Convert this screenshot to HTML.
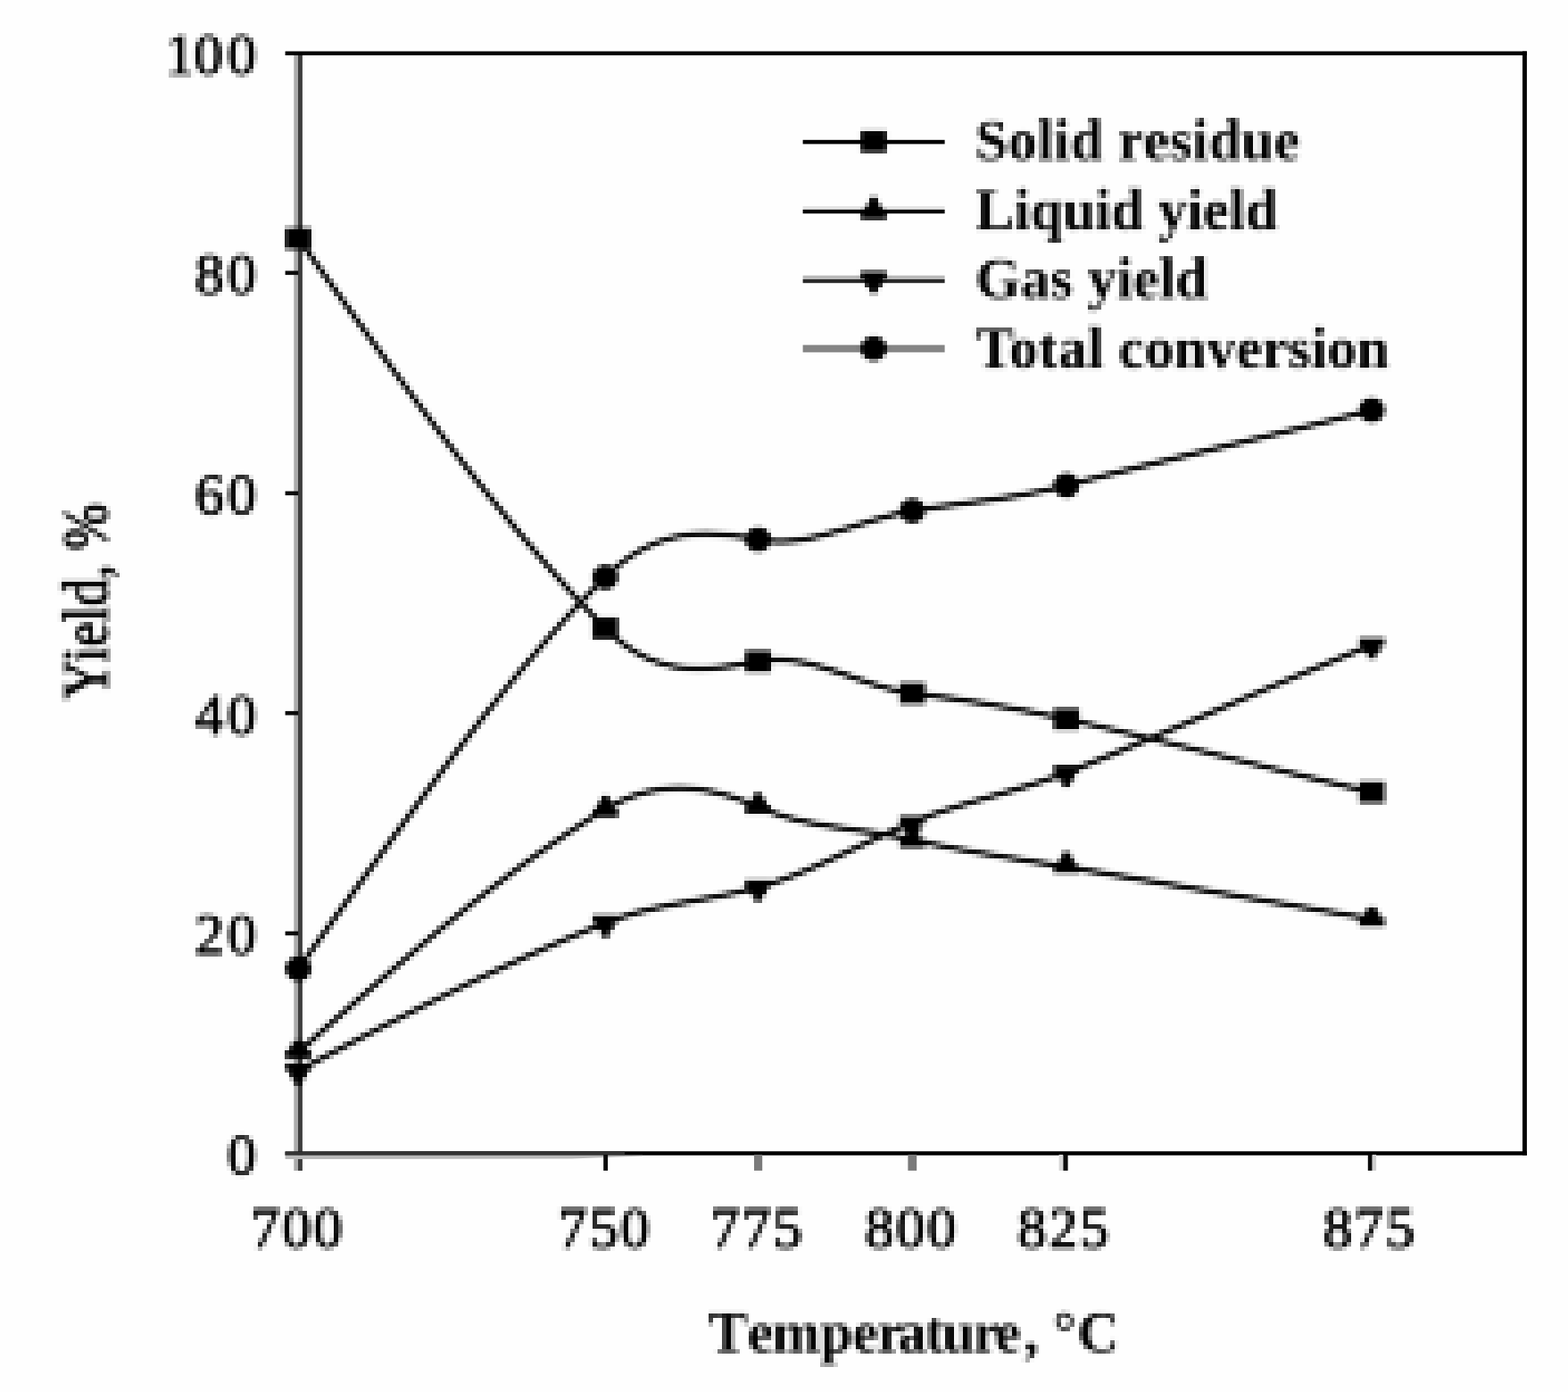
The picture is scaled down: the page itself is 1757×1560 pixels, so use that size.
<!DOCTYPE html>
<html lang="en">
<head>
<meta charset="utf-8">
<title>Yield vs Temperature</title>
<style>
html,body{margin:0;padding:0;background:#fefefe;}
body{width:1757px;height:1560px;}
svg{display:block;}
text{font-family:"Liberation Serif","DejaVu Serif",serif;fill:#000;}
.tick{font-size:65px;stroke:#000;stroke-width:1.6px;stroke-linejoin:round;}
.bold{font-size:65px;font-weight:bold;fill:#000;}
</style>
</head>
<body>
<svg width="1757" height="1560" viewBox="0 0 1757 1560">
<defs>
<filter id="soft" x="-1" y="-3" width="1760" height="1565" filterUnits="userSpaceOnUse" primitiveUnits="userSpaceOnUse" color-interpolation-filters="sRGB">
<feGaussianBlur in="SourceGraphic" stdDeviation="1.4" result="avg"/>
<feFlood x="1" y="-1" width="1" height="1" flood-color="#000" flood-opacity="1" result="dot"/>
<feComposite in="dot" in2="dot" operator="over" x="-1" y="-3" width="5" height="5" result="cell"/>
<feTile in="cell" x="-1" y="-3" width="1760" height="1565" result="grid"/>
<feComposite in="avg" in2="grid" operator="in" result="samples"/>
<feMorphology in="samples" operator="dilate" radius="2" result="blocks"/>
<feGaussianBlur in="blocks" stdDeviation="0.6"/>
</filter>
<filter id="edge" x="-1" y="-3" width="1760" height="1565" filterUnits="userSpaceOnUse" color-interpolation-filters="sRGB">
<feGaussianBlur stdDeviation="0.6"/>
</filter>
</defs>
<rect x="0" y="0" width="1757" height="1560" fill="#fefefe"/>

<g id="frame" filter="url(#edge)">
<rect x="329.3" y="61.0" width="4.8" height="1251" fill="#ababab"/>
<rect x="334.0" y="61.0" width="4.9" height="1251" fill="#3e3e3e"/>
<rect x="319.6" y="57.5" width="1391.3" height="4.5" fill="#000"/>
<rect x="1706.0" y="57.5" width="4.9" height="1237.2" fill="#000"/>
<path d="M319.6,1290.4 L700,1290.2 L1710.9,1290.2 L1710.9,1294.7 L700,1294.8 L319.6,1294.8 Z" fill="#000"/>
<path d="M319.6,1290.4 L560,1290.3 L700,1290.2 L700,1294.8 L319.6,1294.8 Z" fill="#333"/>
<path d="M319.6,1294.8 L640,1294.8 L720,1294.8 L720,1295.6 L640,1298.4 L319.6,1299.0 Z" fill="#b8b8b8"/>
<rect x="319.6" y="303.5" width="14.6" height="4.6" fill="#0c0c0c"/>
<rect x="319.6" y="550.5" width="14.6" height="4.6" fill="#0c0c0c"/>
<rect x="319.6" y="796.9" width="14.6" height="4.6" fill="#0c0c0c"/>
<rect x="319.6" y="1043.7" width="14.6" height="4.6" fill="#0c0c0c"/>
<rect x="676.2" y="1294" width="4.9" height="17.9" fill="#0c0c0c"/>
<rect x="845.0" y="1294" width="9.2" height="17.9" fill="#7a7a7a"/>
<rect x="1017.4" y="1294" width="9.8" height="17.9" fill="#7a7a7a"/>
<rect x="1186.6" y="1294" width="4.8" height="17.9" fill="#d8d8d8"/>
<rect x="1191.4" y="1294" width="5.2" height="17.9" fill="#0c0c0c"/>
<rect x="1532.8" y="1294" width="4.9" height="17.9" fill="#0c0c0c"/>
<rect x="1537.7" y="1294" width="4.4" height="17.9" fill="#cfcfcf"/>
<rect x="899.6" y="156.8" width="159.0" height="4.6" fill="#000"/>
<rect x="899.6" y="231.0" width="159.0" height="4.2" fill="#e4e4e4"/>
<rect x="899.6" y="234.9" width="159.0" height="4.4" fill="#000"/>
<rect x="899.6" y="308.7" width="159.0" height="4.5" fill="#bababa"/>
<rect x="899.6" y="313.0" width="159.0" height="4.2" fill="#2a2a2a"/>
<rect x="899.6" y="386.6" width="159.0" height="8.2" fill="#858585"/>
</g>
<g id="chart" filter="url(#soft)">
<g id="ylabels" class="tick">
<text x="185.3 217.3 254.8" y="82.8">100</text>
<text x="218.6 254.8" y="329.4">80</text>
<text x="218.6 254.8" y="576.1">60</text>
<text x="218.6 254.8" y="822.7">40</text>
<text x="218.6 254.8" y="1069.4">20</text>
<text x="254.8" y="1316.0">0</text>
</g>
<g id="xlabels" class="tick">
<text x="281.2 316.1 350.9" y="1398">700</text>
<text x="625.5 660.4 695.2" y="1398">750</text>
<text x="796.5 831.4 866.2" y="1398">775</text>
<text x="969.2 1004.1 1039.0" y="1398">800</text>
<text x="1140.2 1175.2 1210.1" y="1398">825</text>
<text x="1482.8 1517.8 1552.7" y="1398">875</text>
</g>
<g id="curves" fill="none" stroke="#000" stroke-width="5.8" stroke-linejoin="round">
<path d="M334.3,267.3 C448.9,427.8 563.6,588.2 678.2,704.0 C735.3,761.7 792.4,752.2 849.5,741.2 C907.1,730.1 964.7,770.0 1022.3,777.0 C1079.9,784.0 1137.4,793.4 1195.0,806.0 C1309.1,830.9 1423.1,862.2 1537.2,887.7"/>
<path d="M334.3,1085.6 C448.9,927.2 563.6,760.3 678.2,646.8 C735.3,590.3 792.4,593.9 849.5,604.7 C907.1,615.6 964.7,581.8 1022.3,572.4 C1079.9,563.0 1137.4,559.1 1195.0,544.0 C1309.1,514.2 1423.1,489.1 1537.2,459.7"/>
<path d="M334.3,1179.0 C448.9,1077.8 563.6,976.1 678.2,907.0 C735.3,872.6 792.4,879.2 849.5,904.3 C907.1,929.7 964.7,927.3 1022.3,941.0 C1079.9,954.7 1137.4,962.0 1195.0,971.5 C1309.1,990.4 1423.1,1010.9 1537.2,1030.0"/>
<path d="M334.3,1200.0 C448.9,1139.4 563.6,1079.8 678.2,1034.5 C735.3,1011.9 792.4,1010.2 849.5,994.5 C907.1,978.7 964.7,945.3 1022.3,921.5 C1079.9,897.7 1137.4,888.4 1195.0,866.0 C1309.1,821.5 1423.1,768.2 1537.2,723.0"/>
</g>
<g id="markers" fill="#000">
<rect x="320.0" y="255.3" width="28.6" height="24.0"/>
<rect x="663.9" y="692.0" width="28.6" height="24.0"/>
<rect x="835.2" y="729.2" width="28.6" height="24.0"/>
<rect x="1008.0" y="765.0" width="28.6" height="24.0"/>
<rect x="1180.7" y="794.0" width="28.6" height="24.0"/>
<rect x="1522.9" y="875.7" width="28.6" height="24.0"/>
<ellipse cx="334.3" cy="1085.6" rx="14.5" ry="13.9"/>
<ellipse cx="678.2" cy="646.8" rx="14.5" ry="13.9"/>
<ellipse cx="849.5" cy="604.7" rx="14.5" ry="13.9"/>
<ellipse cx="1022.3" cy="572.4" rx="14.5" ry="13.9"/>
<ellipse cx="1195.0" cy="544.0" rx="14.5" ry="13.9"/>
<ellipse cx="1537.2" cy="459.7" rx="14.5" ry="13.9"/>
<path d="M320.0,1186.2 L348.6,1186.2 L348.6,1176.6 L343.7,1176.6 L343.7,1171.8 L341.3,1171.8 L341.3,1167.6 L338.9,1167.6 L338.9,1166.2 L329.7,1166.2 L329.7,1167.6 L327.3,1167.6 L327.3,1171.8 L324.9,1171.8 L324.9,1176.6 L320.0,1176.6 Z"/>
<path d="M663.9,915.7 L692.5,915.7 L692.5,906.1 L687.6,906.1 L687.6,901.3 L685.2,901.3 L685.2,897.1 L682.8,897.1 L682.8,891.7 L673.6,891.7 L673.6,897.1 L671.2,897.1 L671.2,901.3 L668.8,901.3 L668.8,906.1 L663.9,906.1 Z"/>
<path d="M835.2,912.0 L863.8,912.0 L863.8,902.4 L858.9,902.4 L858.9,897.6 L856.5,897.6 L856.5,893.4 L854.1,893.4 L854.1,888.7 L844.9,888.7 L844.9,893.4 L842.5,893.4 L842.5,897.6 L840.1,897.6 L840.1,902.4 L835.2,902.4 Z"/>
<path d="M1008.0,949.7 L1036.6,949.7 L1036.6,940.1 L1031.7,940.1 L1031.7,935.3 L1029.3,935.3 L1029.3,931.1 L1026.9,931.1 L1026.9,927.7 L1017.7,927.7 L1017.7,931.1 L1015.3,931.1 L1015.3,935.3 L1012.9,935.3 L1012.9,940.1 L1008.0,940.1 Z"/>
<path d="M1180.7,978.5 L1209.3,978.5 L1209.3,968.9 L1204.4,968.9 L1204.4,964.1 L1202.0,964.1 L1202.0,959.9 L1199.6,959.9 L1199.6,954.7 L1190.4,954.7 L1190.4,959.9 L1188.0,959.9 L1188.0,964.1 L1185.6,964.1 L1185.6,968.9 L1180.7,968.9 Z"/>
<path d="M1522.9,1038.2 L1551.5,1038.2 L1551.5,1028.6 L1546.6,1028.6 L1546.6,1023.8 L1544.2,1023.8 L1544.2,1019.6 L1541.8,1019.6 L1541.8,1016.5 L1532.6,1016.5 L1532.6,1019.6 L1530.2,1019.6 L1530.2,1023.8 L1527.8,1023.8 L1527.8,1028.6 L1522.9,1028.6 Z"/>
<path d="M320.0,1191.3 L348.6,1191.3 L348.6,1200.3 L343.7,1200.3 L343.7,1208.5 L338.9,1208.5 L338.9,1215.5 L329.7,1215.5 L329.7,1208.5 L324.9,1208.5 L324.9,1200.3 L320.0,1200.3 Z"/>
<path d="M663.9,1025.6 L692.5,1025.6 L692.5,1034.6 L687.6,1034.6 L687.6,1042.8 L682.8,1042.8 L682.8,1050.3 L673.6,1050.3 L673.6,1042.8 L668.8,1042.8 L668.8,1034.6 L663.9,1034.6 Z"/>
<path d="M835.2,986.1 L863.8,986.1 L863.8,995.1 L858.9,995.1 L858.9,1003.3 L854.1,1003.3 L854.1,1010.0 L844.9,1010.0 L844.9,1003.3 L840.1,1003.3 L840.1,995.1 L835.2,995.1 Z"/>
<path d="M1008.0,914.5 L1036.6,914.5 L1036.6,923.5 L1031.7,923.5 L1031.7,931.7 L1026.9,931.7 L1026.9,938.5 L1017.7,938.5 L1017.7,931.7 L1012.9,931.7 L1012.9,923.5 L1008.0,923.5 Z"/>
<path d="M1180.7,857.6 L1209.3,857.6 L1209.3,866.6 L1204.4,866.6 L1204.4,874.8 L1199.6,874.8 L1199.6,881.8 L1190.4,881.8 L1190.4,874.8 L1185.6,874.8 L1185.6,866.6 L1180.7,866.6 Z"/>
<path d="M1522.9,714.9 L1551.5,714.9 L1551.5,723.9 L1546.6,723.9 L1546.6,732.1 L1541.8,732.1 L1541.8,738.3 L1532.6,738.3 L1532.6,732.1 L1527.8,732.1 L1527.8,723.9 L1522.9,723.9 Z"/>
</g>
<g id="legend">
<g fill="#000">
<rect x="964.7" y="146.6" width="28.6" height="24.0"/>
<path d="M964.7,245.8 L993.3,245.8 L993.3,236.2 L988.4,236.2 L988.4,231.4 L986.0,231.4 L986.0,227.2 L983.6,227.2 L983.6,220.7 L974.4,220.7 L974.4,227.2 L972.0,227.2 L972.0,231.4 L969.6,231.4 L969.6,236.2 L964.7,236.2 Z"/>
<path d="M964.7,304.3 L993.3,304.3 L993.3,313.3 L988.4,313.3 L988.4,321.5 L983.6,321.5 L983.6,328.6 L974.4,328.6 L974.4,321.5 L969.6,321.5 L969.6,313.3 L964.7,313.3 Z"/>
<ellipse cx="979.0" cy="390.6" rx="14.5" ry="13.9"/>
</g>
<text class="bold" x="1093" y="178.5" textLength="363.5" lengthAdjust="spacing">Solid residue</text>
<text class="bold" x="1093" y="256.5" textLength="338.5" lengthAdjust="spacing">Liquid yield</text>
<text class="bold" x="1093" y="334.0" textLength="260.5" lengthAdjust="spacing">Gas yield</text>
<text class="bold" x="1093" y="411.5" textLength="463.5" lengthAdjust="spacing">Total conversion</text>
</g>
<text class="bold" x="793.9 837.8 865.1 919.0 954.9 982.9 1005.7 1036.4 1055.8 1090.6 1114.8 1147.4 1164.0 1179.8 1207.2" y="1515">Temperature, °C</text>
<text class="tick" style="stroke-width:1.7px" transform="translate(120,784.3) rotate(-90) scale(0.968,1.1)" x="0" y="0">Yield, %</text>
</g>
</svg>
</body>
</html>
